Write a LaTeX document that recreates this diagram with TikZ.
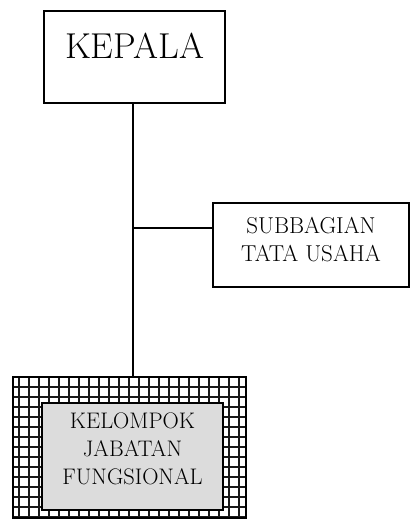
\documentclass[tikz,border=0pt]{standalone}
\definecolor{fillgray}{HTML}{DCDCDC}
\begin{document}
\begin{tikzpicture}[x=1pt,y=-1pt]
\useasboundingbox (0,0) rectangle (411,520);
\tikzset{
  box/.style={draw,line width=1.3pt,inner sep=0pt},
  conn/.style={line width=2pt},
  lbl/.style={align=center,inner sep=0pt},
  gridline/.style={line width=2.2pt,black!90}
}
% KEPALA
\node[box,minimum width=181pt,minimum height=92pt] (kepala) at (134.5,57) {};
\node[lbl,font=\fontsize{36}{40}\selectfont] (kepalatxt) at (134.5,46) {KEPALA};
% SUBBAGIAN
\node[box,minimum width=196pt,minimum height=84pt] (sub) at (311,245) {};
\node[lbl,font=\fontsize{23}{28}\selectfont] (subtxt) at (311,240) {SUBBAGIAN\\TATA USAHA};
% Kelompok group with grid border
\node[inner sep=0pt,minimum width=233pt,minimum height=141pt] (kjf) at (129.5,447.5) {};
\begin{scope}
  \clip (kjf.north west) rectangle (kjf.south east);
  \foreach \x in {19,29,...,249} \draw[gridline] (\x,370) -- (\x,525);
  \foreach \y in {387,397,...,527} \draw[gridline] (5,\y) -- (255,\y);
\end{scope}
\draw[line width=2.4pt] (kjf.north west) rectangle (kjf.south east);
\node[draw,line width=1.6pt,fill=fillgray,inner sep=0pt,minimum width=181pt,minimum height=107pt] (inner) at (132.5,456.5) {};
\node[lbl,font=\fontsize{22.5}{28}\selectfont] (kjftxt) at (132.5,449) {KELOMPOK\\JABATAN\\FUNGSIONAL};
% connectors
\coordinate (trunk) at (133,228);
\draw[conn] (kepala.south -| trunk) -- (kjf.north -| trunk);
\draw[conn] (trunk) -- (sub.west |- trunk);
\end{tikzpicture}
\end{document}
